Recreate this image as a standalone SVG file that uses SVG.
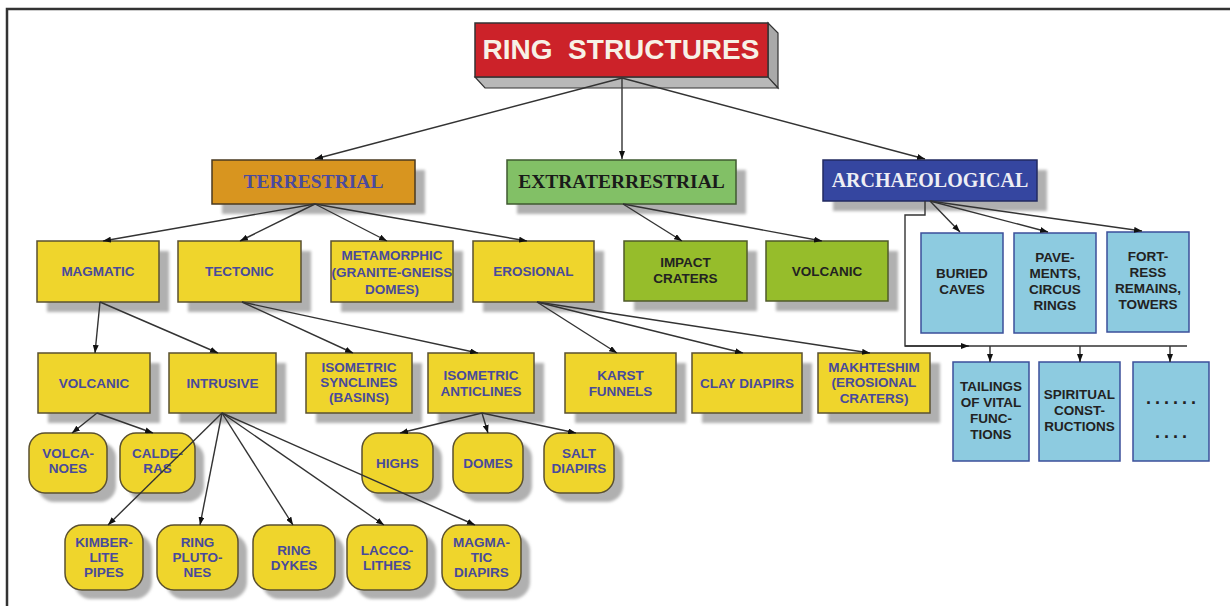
<svg xmlns="http://www.w3.org/2000/svg" width="1230" height="606" viewBox="0 0 1230 606">
<defs>
<marker id="arr" viewBox="0 0 8 6" refX="8" refY="3" markerWidth="8" markerHeight="6" markerUnits="userSpaceOnUse" orient="auto">
<path d="M0,0 L8,3 L0,6 z" fill="#111"/>
</marker>
<filter id="blur" x="-20%" y="-20%" width="140%" height="140%"><feGaussianBlur stdDeviation="1.5"/></filter>
<style>
.frame{fill:none;stroke:#333;stroke-width:2.5}
.sh{fill:#b0b0b0;filter:url(#blur)}
.yel{fill:#efd52c;stroke:#5a5030;stroke-width:1.5}
.grn{fill:#96bd2b;stroke:#4f5a2a;stroke-width:1.5}
.blu{fill:#8dcbe0;stroke:#3b4f9a;stroke-width:1.5}
.t{font-family:"Liberation Sans",Arial,sans-serif;font-weight:bold;font-size:13.5px;text-anchor:middle}
.tp{fill:#484a9c}
.td{fill:#222}
.h{font-family:"Liberation Serif","Times New Roman",serif;font-weight:bold;font-size:19.5px;text-anchor:middle}
.c{fill:none;stroke:#333;stroke-width:1.4}
.ca{fill:none;stroke:#333;stroke-width:1.4;marker-end:url(#arr)}
</style>
</defs>
<rect width="1230" height="606" fill="#fff"/>
<path class="frame" d="M7,606 L7,9 L1230,9"/>

<g id="ring-structures">
<polygon points="768,23 778,33 778,88 768,78" fill="#a9a9a9" stroke="#333" stroke-width="1.2"/>
<polygon points="475,77 768,77 778,88 485,88" fill="#b8b8b8" stroke="#333" stroke-width="1.2"/>
<rect x="475" y="23" width="293" height="54" fill="#cc2229" stroke="#333" stroke-width="1.5"/>
<text x="621" y="59" style="font-family:'Liberation Sans',Arial,sans-serif;font-weight:bold;font-size:28px;text-anchor:middle;white-space:pre" fill="#f7f1e6">RING  STRUCTURES</text>
</g>

<g id="terrestrial">
<rect class="sh" x="222" y="170" width="203" height="44"/>
<rect x="212" y="160" width="203" height="44" fill="#d8951f" stroke="#4a3a20" stroke-width="1.5"/>
<text class="h" x="313.5" y="188" fill="#4a4a9e">TERRESTRIAL</text>
</g>
<g id="extraterrestrial">
<rect class="sh" x="517" y="170" width="229" height="44"/>
<rect x="507" y="160" width="229" height="44" fill="#82c066" stroke="#3f5a30" stroke-width="1.5"/>
<text class="h" x="621.5" y="188" fill="#1a1a1a">EXTRATERRESTRIAL</text>
</g>
<g id="archaeological">
<rect class="sh" x="833" y="170" width="214" height="41"/>
<rect x="823" y="160" width="214" height="41" fill="#3546a0" stroke="#222a60" stroke-width="1.5"/>
<text class="h" x="930" y="187" fill="#eeeef4" style="font-size:20px">ARCHAEOLOGICAL</text>
</g>

<g id="magmatic">
<rect class="sh" x="47" y="251" width="122" height="61"/>
<rect class="yel" x="37" y="241" width="122" height="61"/>
<text class="t tp" x="98" y="276">MAGMATIC</text>
</g>
<g id="tectonic">
<rect class="sh" x="188" y="251" width="123" height="61"/>
<rect class="yel" x="178" y="241" width="123" height="61"/>
<text class="t tp" x="239.5" y="276">TECTONIC</text>
</g>
<g id="metamorphic">
<rect class="sh" x="341" y="251" width="122" height="61"/>
<rect class="yel" x="331" y="241" width="122" height="61"/>
<text class="t tp" x="392" y="260">METAMORPHIC</text>
<text class="t tp" x="392" y="277">(GRANITE-GNEISS</text>
<text class="t tp" x="392" y="294">DOMES)</text>
</g>
<g id="erosional">
<rect class="sh" x="483" y="251" width="121" height="61"/>
<rect class="yel" x="473" y="241" width="121" height="61"/>
<text class="t tp" x="533.5" y="276">EROSIONAL</text>
</g>
<g id="impact-craters">
<rect class="sh" x="634" y="251" width="123" height="60"/>
<rect class="grn" x="624" y="241" width="123" height="60"/>
<text class="t td" x="685.5" y="267">IMPACT</text>
<text class="t td" x="685.5" y="283">CRATERS</text>
</g>
<g id="volcanic-et">
<rect class="sh" x="776" y="251" width="122" height="60"/>
<rect class="grn" x="766" y="241" width="122" height="60"/>
<text class="t td" x="827" y="276">VOLCANIC</text>
</g>

<g id="buried-caves">
<rect class="blu" x="921" y="233" width="82" height="100"/>
<text class="t td" x="962" y="278">BURIED</text>
<text class="t td" x="962" y="294">CAVES</text>
</g>
<g id="pavements">
<rect class="blu" x="1014" y="233" width="82" height="100"/>
<text class="t td" x="1055" y="262">PAVE-</text>
<text class="t td" x="1055" y="278">MENTS,</text>
<text class="t td" x="1055" y="294">CIRCUS</text>
<text class="t td" x="1055" y="310">RINGS</text>
</g>
<g id="fortress">
<rect class="blu" x="1107" y="232" width="82" height="100"/>
<text class="t td" x="1148" y="261">FORT-</text>
<text class="t td" x="1148" y="277">RESS</text>
<text class="t td" x="1148" y="293">REMAINS,</text>
<text class="t td" x="1148" y="309">TOWERS</text>
</g>
<g id="tailings">
<rect class="blu" x="953" y="362" width="76" height="99"/>
<text class="t td" x="991" y="391">TAILINGS</text>
<text class="t td" x="991" y="407">OF VITAL</text>
<text class="t td" x="991" y="423">FUNC-</text>
<text class="t td" x="991" y="439">TIONS</text>
</g>
<g id="spiritual">
<rect class="blu" x="1039" y="362" width="81" height="99"/>
<text class="t td" x="1079.5" y="399">SPIRITUAL</text>
<text class="t td" x="1079.5" y="415">CONST-</text>
<text class="t td" x="1079.5" y="431">RUCTIONS</text>
</g>
<g id="more">
<rect class="blu" x="1133" y="362" width="76" height="99"/>
<text class="t td" x="1173" y="404" style="font-size:18px;letter-spacing:4px">......</text>
<text class="t td" x="1173" y="438" style="font-size:18px;letter-spacing:4px">....</text>
</g>

<g id="volcanic">
<rect class="sh" x="48" y="363" width="112" height="60"/>
<rect class="yel" x="38" y="353" width="112" height="60"/>
<text class="t tp" x="94" y="388">VOLCANIC</text>
</g>
<g id="intrusive">
<rect class="sh" x="179" y="363" width="107" height="60"/>
<rect class="yel" x="169" y="353" width="107" height="60"/>
<text class="t tp" x="222.5" y="388">INTRUSIVE</text>
</g>
<g id="isometric-synclines">
<rect class="sh" x="316" y="363" width="106" height="60"/>
<rect class="yel" x="306" y="353" width="106" height="60"/>
<text class="t tp" x="359" y="372">ISOMETRIC</text>
<text class="t tp" x="359" y="387">SYNCLINES</text>
<text class="t tp" x="359" y="402">(BASINS)</text>
</g>
<g id="isometric-anticlines">
<rect class="sh" x="438" y="363" width="106" height="60"/>
<rect class="yel" x="428" y="353" width="106" height="60"/>
<text class="t tp" x="481" y="380">ISOMETRIC</text>
<text class="t tp" x="481" y="396">ANTICLINES</text>
</g>
<g id="karst-funnels">
<rect class="sh" x="575" y="363" width="111" height="60"/>
<rect class="yel" x="565" y="353" width="111" height="60"/>
<text class="t tp" x="620.5" y="380">KARST</text>
<text class="t tp" x="620.5" y="396">FUNNELS</text>
</g>
<g id="clay-diapirs">
<rect class="sh" x="702" y="363" width="110" height="60"/>
<rect class="yel" x="692" y="353" width="110" height="60"/>
<text class="t tp" x="747" y="388">CLAY DIAPIRS</text>
</g>
<g id="makhteshim">
<rect class="sh" x="828" y="363" width="112" height="60"/>
<rect class="yel" x="818" y="353" width="112" height="60"/>
<text class="t tp" x="874" y="372">MAKHTESHIM</text>
<text class="t tp" x="874" y="387">(EROSIONAL</text>
<text class="t tp" x="874" y="403">CRATERS)</text>
</g>

<g id="volcanoes">
<rect class="sh" x="38" y="442" width="78" height="60" rx="16"/>
<rect class="yel" x="29" y="433" width="78" height="60" rx="16"/>
<text class="t tp" x="68" y="458">VOLCA-</text>
<text class="t tp" x="68" y="473">NOES</text>
</g>
<g id="calderas">
<rect class="sh" x="129" y="442" width="75" height="60" rx="16"/>
<rect class="yel" x="120" y="433" width="75" height="60" rx="16"/>
<text class="t tp" x="157.5" y="458">CALDE-</text>
<text class="t tp" x="157.5" y="473">RAS</text>
</g>
<g id="highs">
<rect class="sh" x="371" y="442" width="71" height="60" rx="16"/>
<rect class="yel" x="362" y="433" width="71" height="60" rx="16"/>
<text class="t tp" x="397.5" y="468">HIGHS</text>
</g>
<g id="domes">
<rect class="sh" x="462" y="442" width="70" height="60" rx="16"/>
<rect class="yel" x="453" y="433" width="70" height="60" rx="16"/>
<text class="t tp" x="488" y="468">DOMES</text>
</g>
<g id="salt-diapirs">
<rect class="sh" x="553" y="442" width="70" height="60" rx="16"/>
<rect class="yel" x="544" y="433" width="70" height="60" rx="16"/>
<text class="t tp" x="579" y="458">SALT</text>
<text class="t tp" x="579" y="473">DIAPIRS</text>
</g>

<g id="kimberlite-pipes">
<rect class="sh" x="74" y="534" width="78" height="65" rx="17"/>
<rect class="yel" x="65" y="525" width="78" height="65" rx="17"/>
<text class="t tp" x="104" y="547">KIMBER-</text>
<text class="t tp" x="104" y="562">LITE</text>
<text class="t tp" x="104" y="577">PIPES</text>
</g>
<g id="ring-plutones">
<rect class="sh" x="166" y="534" width="81" height="65" rx="17"/>
<rect class="yel" x="157" y="525" width="81" height="65" rx="17"/>
<text class="t tp" x="197.5" y="547">RING</text>
<text class="t tp" x="197.5" y="562">PLUTO-</text>
<text class="t tp" x="197.5" y="577">NES</text>
</g>
<g id="ring-dykes">
<rect class="sh" x="262" y="534" width="82" height="65" rx="17"/>
<rect class="yel" x="253" y="525" width="82" height="65" rx="17"/>
<text class="t tp" x="294" y="555">RING</text>
<text class="t tp" x="294" y="570">DYKES</text>
</g>
<g id="laccolithes">
<rect class="sh" x="356" y="534" width="80" height="65" rx="17"/>
<rect class="yel" x="347" y="525" width="80" height="65" rx="17"/>
<text class="t tp" x="387" y="555">LACCO-</text>
<text class="t tp" x="387" y="570">LITHES</text>
</g>
<g id="magmatic-diapirs">
<rect class="sh" x="451" y="534" width="79" height="65" rx="17"/>
<rect class="yel" x="442" y="525" width="79" height="65" rx="17"/>
<text class="t tp" x="481.5" y="547">MAGMA-</text>
<text class="t tp" x="481.5" y="562">TIC</text>
<text class="t tp" x="481.5" y="577">DIAPIRS</text>
</g>

<g id="connectors">
<path class="ca" d="M622,78 L315,159"/>
<path class="ca" d="M622,78 L622,159"/>
<path class="ca" d="M622,78 L925,159"/>
<path class="ca" d="M315,204 L103,241"/>
<path class="ca" d="M315,204 L240,241"/>
<path class="ca" d="M315,204 L387,241"/>
<path class="ca" d="M315,204 L527,241"/>
<path class="ca" d="M623,204 L682,241"/>
<path class="ca" d="M623,204 L822,241"/>
<path class="ca" d="M930,201 L960,232"/>
<path class="ca" d="M930,201 L1048,232"/>
<path class="ca" d="M930,201 L1142,231"/>
<path class="c" d="M925,201 L925,215 L905,215 L905,346 L1187,346"/>
<path class="ca" d="M905,346 L969,346"/>
<path class="ca" d="M990,346 L990,362"/>
<path class="ca" d="M1080,346 L1080,362"/>
<path class="ca" d="M1170,346 L1170,362"/>
<path class="ca" d="M100,302 L95,353"/>
<path class="ca" d="M100,302 L218,353"/>
<path class="ca" d="M242,302 L353,353"/>
<path class="ca" d="M242,302 L478,353"/>
<path class="ca" d="M537,302 L617,353"/>
<path class="ca" d="M537,302 L743,353"/>
<path class="ca" d="M537,302 L870,353"/>
<path class="ca" d="M97,413 L72,433"/>
<path class="ca" d="M97,413 L153,433"/>
<path class="ca" d="M222,413 L108,525"/>
<path class="ca" d="M222,413 L200,525"/>
<path class="ca" d="M222,413 L293,525"/>
<path class="ca" d="M222,413 L384,525"/>
<path class="ca" d="M222,413 L475,525"/>
<path class="ca" d="M482,413 L400,433"/>
<path class="ca" d="M482,413 L488,433"/>
<path class="ca" d="M482,413 L576,433"/>
</g>
</svg>
